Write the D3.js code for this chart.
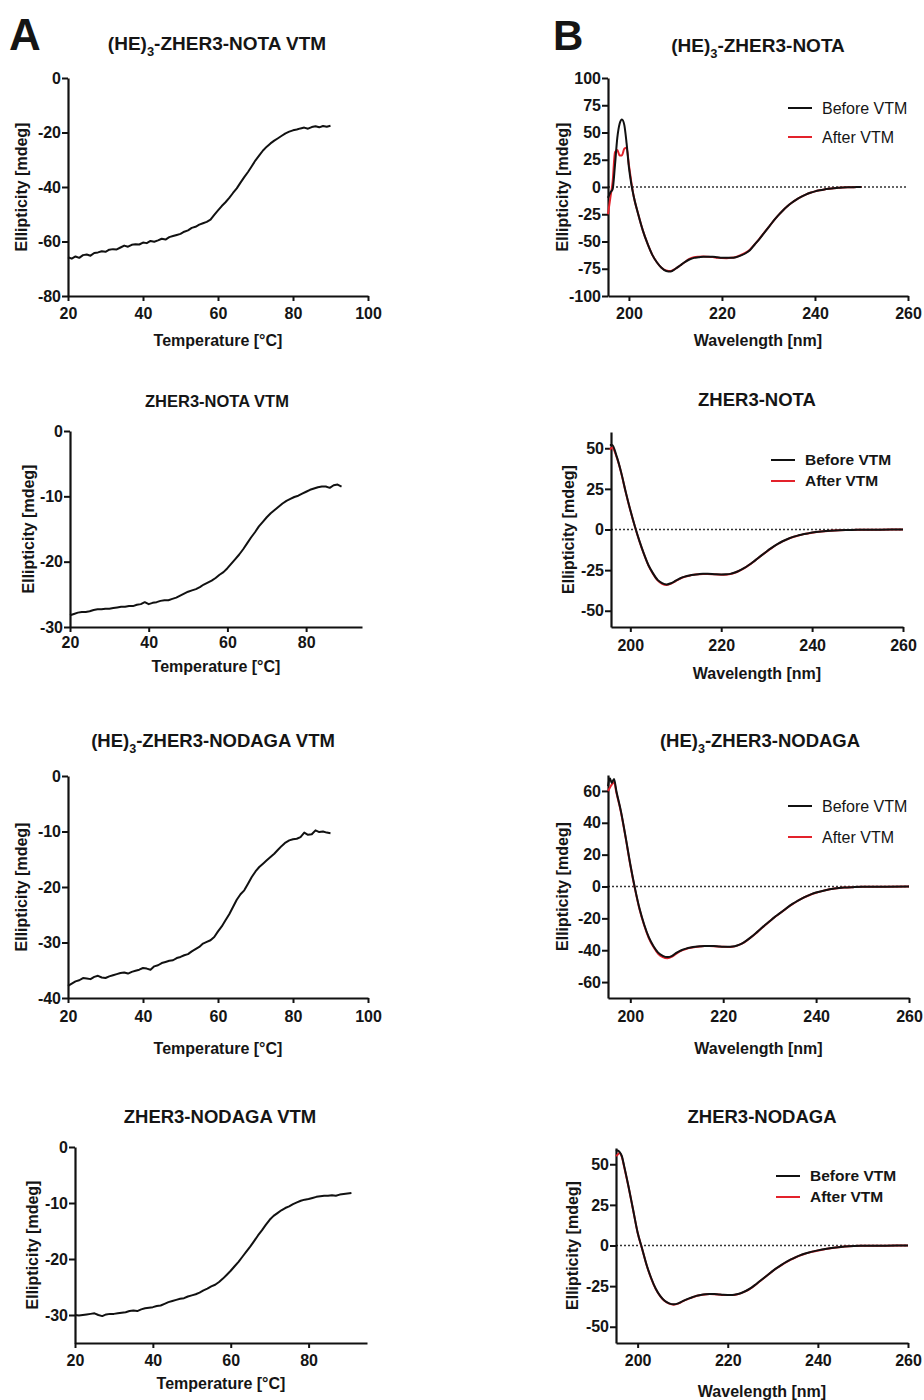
<!DOCTYPE html>
<html>
<head>
<meta charset="utf-8">
<script src="https://cdn.jsdelivr.net/npm/d3@7"></script>
<style>
  body { margin: 0; background: #fff; }
  text { font-family: "Liberation Sans", Arial, sans-serif; fill: #151515; }
</style>
</head>
<body>
<svg id="fig" width="924" height="1400"></svg>
<script>
// ---- data ----
var tempC = [20,21,22,23,24,25,26,27,28,29,30,31,32,33,34,35,36,37,38,39,40,41,42,43,44,45,46,47,48,49,
  50,51,52,53,54,55,56,57,58,59,60,61,62,63,64,65,66,67,68,69,70,71,72,73,74,75,76,77,78,79,
  80,81,82,83,84,85,86,87,88,89,90,91];

// (HE)3-ZHER3-NOTA VTM
var ellA1 = [-65.8,-66.3,-65.5,-66.0,-65.0,-64.8,-65.2,-64.2,-64.0,-63.6,
  -63.8,-63.0,-62.8,-62.9,-62.2,-61.5,-61.9,-61.2,-61.0,-61.1,
  -60.4,-60.6,-59.8,-60.1,-59.6,-59.0,-59.3,-58.4,-58.0,-57.6,
  -57.2,-56.4,-55.9,-55.0,-54.6,-53.8,-53.3,-52.8,-52.0,-50.2,
  -48.6,-47.0,-45.6,-44.0,-42.2,-40.5,-38.4,-36.4,-34.5,-32.4,
  -30.2,-28.4,-26.6,-25.2,-24.0,-23.0,-22.1,-21.2,-20.3,-19.7,
  -19.2,-18.9,-18.5,-18.2,-18.6,-18.0,-17.7,-18.1,-17.6,-17.9,
  -17.5];
// ZHER3-NOTA VTM
var ellA2 = [-28.2,-28.0,-27.8,-27.7,-27.7,-27.6,-27.4,-27.3,-27.3,-27.2,
  -27.2,-27.1,-27.0,-26.9,-26.9,-26.8,-26.8,-26.6,-26.5,-26.2,
  -26.5,-26.3,-26.2,-26.0,-25.9,-25.9,-25.7,-25.5,-25.2,-24.9,
  -24.6,-24.4,-24.2,-23.9,-23.5,-23.2,-22.9,-22.5,-22.0,-21.6,
  -21.0,-20.3,-19.6,-18.9,-18.1,-17.2,-16.3,-15.5,-14.6,-13.9,
  -13.2,-12.6,-12.1,-11.6,-11.1,-10.7,-10.4,-10.1,-9.9,-9.6,
  -9.3,-9.0,-8.8,-8.6,-8.5,-8.5,-8.7,-8.3,-8.2,-8.5];
// (HE)3-ZHER3-NODAGA VTM
var ellA3 = [-37.8,-37.4,-37.0,-36.8,-36.4,-36.5,-36.6,-36.2,-36.0,-36.3,
  -36.4,-36.1,-35.9,-35.7,-35.5,-35.4,-35.6,-35.3,-35.1,-34.9,
  -34.6,-34.7,-34.9,-34.3,-34.1,-33.7,-33.5,-33.3,-33.2,-32.8,
  -32.6,-32.3,-32.1,-31.6,-31.2,-30.8,-30.2,-29.9,-29.6,-29.0,
  -28.0,-27.1,-26.0,-24.9,-23.6,-22.3,-21.3,-20.6,-19.4,-18.2,
  -17.2,-16.4,-15.8,-15.2,-14.6,-14.0,-13.3,-12.6,-12.0,-11.6,
  -11.4,-11.3,-11.0,-10.2,-10.6,-10.5,-9.8,-10.1,-10.0,-10.2,
  -10.3];
// ZHER3-NODAGA VTM
var ellA4 = [-30.0,-30.1,-30.0,-29.9,-29.8,-29.7,-30.0,-30.2,-29.9,-29.8,
  -29.8,-29.7,-29.6,-29.5,-29.3,-29.2,-29.3,-29.0,-28.8,-28.7,
  -28.6,-28.4,-28.3,-28.0,-27.7,-27.5,-27.3,-27.1,-27.0,-26.7,
  -26.5,-26.3,-26.0,-25.6,-25.3,-24.9,-24.6,-24.1,-23.5,-22.8,
  -22.1,-21.3,-20.5,-19.6,-18.7,-17.8,-16.8,-15.8,-14.9,-13.9,
  -13.0,-12.3,-11.8,-11.3,-10.9,-10.6,-10.2,-9.9,-9.6,-9.4,
  -9.3,-9.1,-8.9,-8.8,-8.7,-8.7,-8.6,-8.7,-8.5,-8.4,
  -8.3,-8.2];

// CD spectra, before / after VTM
var wlB1 = [195.5,196,196.5,197,197.5,198,198.5,199,199.5,200,200.5,201,
  202,203,204,205,206,207,208,209,210,211,212,213,214,215,216,217,218,219,220,
  221,222,223,224,225,226,227,228,229,230,231,232,233,234,235,236,237,238,239,240,
  241,242,243,244,245,246,247,248,249,250];
var beforeB1 = [-10,-5,-2,20,45,58,62,57,40,18,3,-8,
  -25,-40,-52,-62,-69,-74,-77,-77.5,-75,-72,-69,-66.5,-65,-64.5,-64,-64,-64,-64.5,-65,
  -65,-65,-64.5,-63,-61,-58,-53,-48,-42.5,-37,-31.5,-26.5,-22,-18,-14.5,-11.5,-9,-7,-5.3,-4,
  -3,-2.2,-1.6,-1.1,-0.8,-0.5,-0.3,-0.2,-0.1,-0.1];
var afterB1 = [-25,-10,5,32,34,29,29,35,36,20,5,-8,
  -25,-40,-52,-62,-69,-74,-76.5,-77,-75,-72,-69,-66,-64.5,-64,-63.8,-64,-64.3,-64.8,-65.2,
  -65.3,-65,-64.2,-62.5,-60.5,-57.5,-52.8,-47.8,-42.3,-37,-31.5,-26.5,-22,-18,-14.5,-11.5,-9,-7,-5.3,-4,
  -3,-2.2,-1.6,-1.1,-0.8,-0.5,-0.3,-0.2,-0.1,-0.1];

var wlB2 = [195.5,196,197,198,199,200,201,202,203,204,205,206,207,208,209,210,211,212,213,214,
  215,216,217,218,219,220,221,222,223,224,225,226,227,228,229,230,231,232,233,234,
  235,236,237,238,239,240,242,244,246,248,250,255,260];
var beforeB2 = [52,52,45,35,23,12,2,-7,-15,-22,-27,-31,-33,-33.8,-33,-31.5,-30,-29,-28.3,-27.8,
  -27.5,-27.3,-27.3,-27.4,-27.6,-27.7,-27.6,-27.3,-26.5,-25.3,-23.8,-22,-20,-17.8,-15.6,-13.5,-11.5,-9.6,-8,-6.6,
  -5.4,-4.4,-3.6,-2.9,-2.4,-1.9,-1.2,-0.7,-0.4,-0.3,-0.2,-0.1,0];
var afterB2 = [49,50.5,44.5,34.8,22.8,11.8,1.8,-7.2,-15.2,-22.2,-27.3,-31.3,-33.4,-34.1,-33.3,-31.7,-30.2,-29.1,-28.4,-27.9,
  -27.6,-27.4,-27.4,-27.5,-27.7,-27.8,-27.8,-27.4,-26.6,-25.4,-23.9,-22.1,-20.1,-17.9,-15.7,-13.6,-11.6,-9.7,-8.1,-6.7,
  -5.5,-4.5,-3.7,-3,-2.5,-2,-1.2,-0.7,-0.4,-0.3,-0.2,-0.1,0];

var wlB3 = [195.2,195.6,196,196.5,197,198,199,200,201,202,203,204,205,206,207,208,209,210,211,212,
  213,214,215,216,217,218,219,220,221,222,223,224,225,226,227,228,229,230,231,232,
  233,234,235,236,237,238,239,240,242,244,246,248,250,255,260];
var beforeB3 = [63,68,65,67.5,60,47,31,14,-1,-14,-24,-32,-37.5,-41.5,-43.5,-44.3,-43.5,-41.5,-40,-39,
  -38.3,-37.8,-37.5,-37.3,-37.3,-37.4,-37.6,-37.8,-37.9,-37.7,-37,-35.8,-34,-31.8,-29.4,-26.8,-24.2,-21.8,-19.4,-17.2,
  -15,-12.8,-10.8,-9,-7.4,-6,-4.8,-3.8,-2.3,-1.3,-0.7,-0.4,-0.2,-0.1,0];
var afterB3 = [60,62,64,65.5,59,46.5,30.5,13.5,-1.5,-14.5,-24.5,-32.5,-38,-42.2,-44.3,-45,-44,-42,-40.3,-39.2,
  -38.5,-38,-37.6,-37.4,-37.4,-37.5,-37.7,-37.9,-38,-37.8,-37.1,-35.9,-34.1,-31.9,-29.5,-26.9,-24.3,-21.9,-19.5,-17.3,
  -15.1,-12.9,-10.9,-9.1,-7.5,-6.1,-4.9,-3.9,-2.3,-1.3,-0.7,-0.4,-0.2,-0.1,0];

var wlB4 = wlB3;
var beforeB4 = [58,58.5,57.5,55,49,36,22,8,-2,-12,-20,-26.5,-31,-34,-35.6,-36.2,-35.6,-34.2,-33,-32,
  -31,-30.4,-30,-29.8,-29.9,-30.1,-30.3,-30.4,-30.4,-30,-29.2,-28,-26.4,-24.4,-22.2,-20,-17.8,-15.6,-13.6,-11.8,
  -10.1,-8.6,-7.3,-6.1,-5.1,-4.3,-3.6,-3,-2,-1.2,-0.6,-0.3,-0.2,-0.1,0];
var afterB4 = [55,56,57,54.5,48.5,35.8,21.8,7.8,-2.2,-12.2,-20.2,-26.7,-31.2,-34.2,-35.8,-36.4,-35.8,-34.4,-33.2,-32.1,
  -31.1,-30.5,-30.1,-29.9,-30,-30.2,-30.4,-30.5,-30.5,-30.1,-29.3,-28.1,-26.5,-24.5,-22.3,-20.1,-17.9,-15.7,-13.7,-11.9,
  -10.2,-8.7,-7.4,-6.2,-5.2,-4.4,-3.7,-3.1,-2,-1.2,-0.6,-0.3,-0.2,-0.1,0];

var seriesNames = ["Before VTM", "After VTM"];
var seriesColors = ["#111111", "#e3222b"];

// ---- layout of each panel (pixels) ----
var meltPanels = [
  {sub: true, title: "-ZHER3-NOTA VTM", values: ellA1, xDom: [20, 100], yDom: [-80, 0],
   xTicks: [20, 40, 60, 80, 100], yTicks: [0, -20, -40, -60, -80],
   left: 68, right: 368, top: 78, bottom: 296, titleX: 217, titleY: 50, titleSize: 19,
   xPad: 7, yLabX: 21, xLabY: 346},
  {sub: false, title: "ZHER3-NOTA VTM", values: ellA2, xDom: [20, 94.2], yDom: [-30, 0],
   xTicks: [20, 40, 60, 80], yTicks: [0, -10, -20, -30],
   left: 70, right: 362, top: 431, bottom: 627, titleX: 217, titleY: 407, titleSize: 16.5,
   xPad: 5, yLabX: 28, xLabY: 672},
  {sub: true, title: "-ZHER3-NODAGA VTM", values: ellA3, xDom: [20, 100], yDom: [-40, 0],
   xTicks: [20, 40, 60, 80, 100], yTicks: [0, -10, -20, -30, -40],
   left: 68, right: 368, top: 776, bottom: 998, titleX: 213, titleY: 747, titleSize: 18.5,
   xPad: 8, yLabX: 21, xLabY: 1054},
  {sub: false, title: "ZHER3-NODAGA VTM", values: ellA4, xDom: [20, 95], yDom: [-35, 0],
   xTicks: [20, 40, 60, 80], yTicks: [0, -10, -20, -30],
   left: 75, right: 367, top: 1147, bottom: 1343, titleX: 220, titleY: 1123, titleSize: 18.5,
   xPad: 7, yLabX: 32, xLabY: 1389}
];

var cdPanels = [
  {sub: true, title: "-ZHER3-NOTA", wl: wlB1, before: beforeB1, after: afterB1,
   xDom: [195.5, 260], yDom: [-100, 100], yTicks: [100, 75, 50, 25, 0, -25, -50, -75, -100],
   left: 608, right: 908, top: 78, bottom: 296, titleX: 758, titleY: 52, titleSize: 19,
   xPad: 7, yLabX: 562, xLabY: 346, legX: 788, legY: 108, legGap: 29, legBold: false, legSize: 16},
  {sub: false, title: "ZHER3-NOTA", wl: wlB2, before: beforeB2, after: afterB2,
   xDom: [195.75, 260], yDom: [-60, 60], yTicks: [50, 25, 0, -25, -50],
   left: 611, right: 903, top: 432, bottom: 627, titleX: 757, titleY: 406, titleSize: 18.5,
   xPad: 8, yLabX: 568, xLabY: 679, legX: 771, legY: 460, legGap: 21, legBold: true, legSize: 15.5},
  {sub: true, title: "-ZHER3-NODAGA", wl: wlB3, before: beforeB3, after: afterB3,
   xDom: [195.2, 260], yDom: [-70, 70], yTicks: [60, 40, 20, 0, -20, -40, -60],
   left: 608, right: 909, top: 775, bottom: 998, titleX: 760, titleY: 747, titleSize: 18.5,
   xPad: 8, yLabX: 562, xLabY: 1054, legX: 788, legY: 806, legGap: 31, legBold: false, legSize: 16},
  {sub: false, title: "ZHER3-NODAGA", wl: wlB4, before: beforeB4, after: afterB4,
   xDom: [195.2, 260], yDom: [-60, 60], yTicks: [50, 25, 0, -25, -50],
   left: 616, right: 908, top: 1148, bottom: 1343, titleX: 762, titleY: 1123, titleSize: 18.5,
   xPad: 7, yLabX: 572, xLabY: 1397, legX: 776, legY: 1176, legGap: 21, legBold: true, legSize: 15.5}
];

var svg = d3.select("#fig");
svg.append("rect").attr("width", 924).attr("height", 1400).attr("fill", "#fff");

// panel letters
svg.append("text").attr("x", 9).attr("y", 50).attr("font-size", 44).attr("font-weight", "bold").text("A");
svg.append("text").attr("x", 553).attr("y", 50).attr("font-size", 42).attr("font-weight", "bold").text("B");

// plain hyphen minus, as in the original figure
var tickFmt = function(d) { return String(d); };

function addTitle(p) {
  var t = svg.append("text")
    .attr("x", p.titleX).attr("y", p.titleY)
    .attr("text-anchor", "middle")
    .attr("font-weight", "bold")
    .attr("font-size", p.titleSize);
  if (p.sub) {
    t.append("tspan").text("(HE)");
    t.append("tspan").attr("dy", p.titleSize * 0.3).attr("font-size", p.titleSize * 0.68).text("3");
    t.append("tspan").attr("dy", -p.titleSize * 0.3).text(p.title);
  } else {
    t.text(p.title);
  }
}

function styleAxis(g) {
  g.attr("font-family", null).attr("font-size", null);
  g.select(".domain").attr("stroke", "#111").attr("stroke-width", 2.2);
  g.selectAll(".tick line").attr("stroke", "#111").attr("stroke-width", 2);
  g.selectAll(".tick text")
    .attr("font-size", 16)
    .attr("font-weight", "bold")
    .attr("fill", "#151515");
}

function drawAxes(p, x, y, xTicks, xLabel) {
  svg.append("g")
    .attr("transform", "translate(0," + p.bottom + ")")
    .call(d3.axisBottom(x).tickValues(xTicks).tickFormat(tickFmt)
      .tickSize(5).tickSizeOuter(0).tickPadding(p.xPad))
    .call(styleAxis);

  svg.append("g")
    .attr("transform", "translate(" + p.left + ",0)")
    .call(d3.axisLeft(y).tickValues(p.yTicks).tickFormat(tickFmt)
      .tickSize(6).tickSizeOuter(0).tickPadding(1))
    .call(styleAxis);

  svg.append("text")
    .attr("x", (p.left + p.right) / 2).attr("y", p.xLabY)
    .attr("text-anchor", "middle")
    .attr("font-size", 16).attr("font-weight", "bold")
    .text(xLabel);

  svg.append("text")
    .attr("transform", "translate(" + p.yLabX + "," + ((p.top + p.bottom) / 2) + ") rotate(-90)")
    .attr("text-anchor", "middle").attr("dy", "0.35em")
    .attr("font-size", 16).attr("font-weight", "bold")
    .text("Ellipticity [mdeg]");
}

// thermal melts (column A)
meltPanels.forEach(function(p) {
  var x = d3.scaleLinear().domain(p.xDom).range([p.left, p.right]);
  var y = d3.scaleLinear().domain(p.yDom).range([p.bottom, p.top]);

  addTitle(p);
  drawAxes(p, x, y, p.xTicks, "Temperature [°C]");

  var pts = d3.zip(tempC.slice(0, p.values.length), p.values);
  svg.append("path")
    .datum(pts)
    .attr("fill", "none")
    .attr("stroke", "#111")
    .attr("stroke-width", 2)
    .attr("stroke-linejoin", "round")
    .attr("d", d3.line().x(function(d) { return x(d[0]); }).y(function(d) { return y(d[1]); }));
});

// CD spectra (column B)
cdPanels.forEach(function(p) {
  var x = d3.scaleLinear().domain(p.xDom).range([p.left, p.right]);
  var y = d3.scaleLinear().domain(p.yDom).range([p.bottom, p.top]);

  addTitle(p);

  // dotted zero line
  svg.append("line")
    .attr("x1", x(p.xDom[0])).attr("x2", x(260))
    .attr("y1", y(0)).attr("y2", y(0))
    .attr("stroke", "#333").attr("stroke-width", 1.6)
    .attr("stroke-dasharray", "2,2");

  drawAxes(p, x, y, [200, 220, 240, 260], "Wavelength [nm]");

  var line = d3.line()
    .curve(d3.curveMonotoneX)
    .x(function(d) { return x(d[0]); })
    .y(function(d) { return y(d[1]); });

  // red first, black on top
  [p.after, p.before].forEach(function(vals, i) {
    svg.append("path")
      .datum(d3.zip(p.wl, vals))
      .attr("fill", "none")
      .attr("stroke", seriesColors[1 - i])
      .attr("stroke-width", 2)
      .attr("d", line);
  });

  // legend
  seriesNames.forEach(function(name, i) {
    var ly = p.legY + i * p.legGap;
    svg.append("line")
      .attr("x1", p.legX).attr("x2", p.legX + 24)
      .attr("y1", ly).attr("y2", ly)
      .attr("stroke", seriesColors[i]).attr("stroke-width", 2);
    svg.append("text")
      .attr("x", p.legX + 34).attr("y", ly).attr("dy", "0.35em")
      .attr("font-size", p.legSize)
      .attr("font-weight", p.legBold ? "bold" : "normal")
      .text(name);
  });
});
</script>
</body>
</html>
